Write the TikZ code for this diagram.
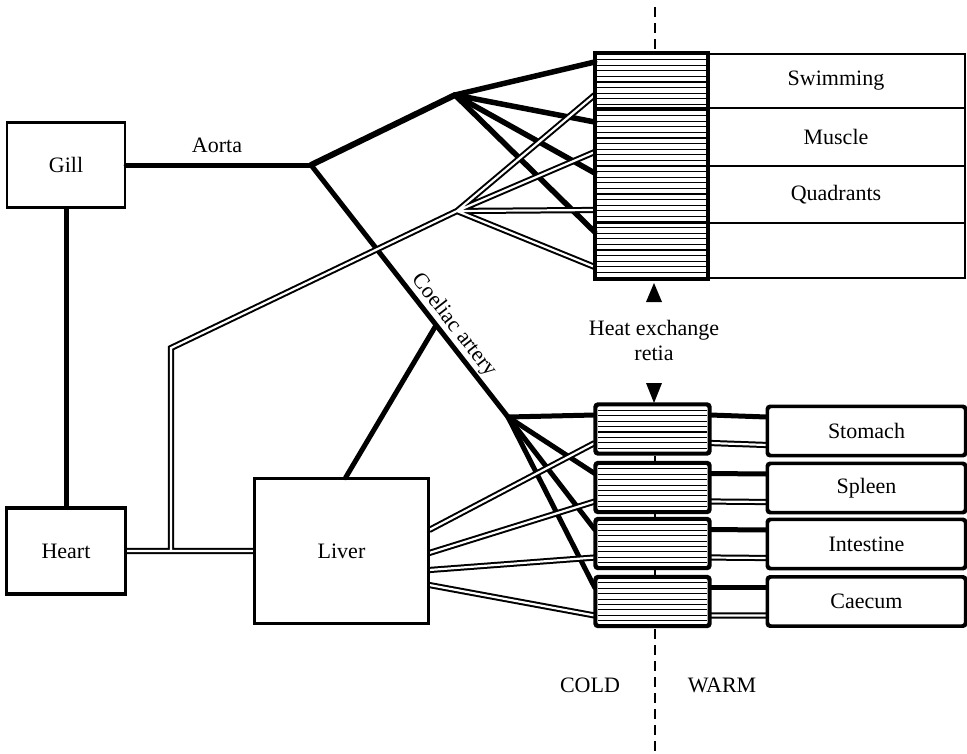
\documentclass[tikz,border=0pt]{standalone}
\usepackage{fontspec}
\setmainfont{Liberation Serif}
\newcommand\lblfont{\fontsize{22}{25}\selectfont}
\begin{document}
\begin{tikzpicture}[x=1pt,y=-1pt,
  box/.style={draw, line width=2.4pt, inner sep=0pt, font=\lblfont},
  organ/.style={box, rounded corners=3pt, minimum width=197pt, minimum height=48pt},
  retbox/.style={draw, line width=2.6pt, rounded corners=3pt, inner sep=0pt, minimum width=113pt, minimum height=48pt},
  artery/.style={line width=5pt, line cap=round, line join=round},
  veinout/.style={line width=6.2pt, line join=miter},
  veinin/.style={white, line width=2.2pt, line join=miter},
  hatch/.style={line width=1.1pt},
  divline/.style={line width=2.4pt},
  midline/.style={line width=2pt, dash pattern=on 10pt off 6pt},
  lbl/.style={font=\lblfont, inner sep=1pt}]
\useasboundingbox (0,0) rectangle (967,753);

% main boxes
\node[box, minimum width=118pt, minimum height=85pt] (Gill) at (66,165) {Gill};
\node[box, minimum width=118pt, minimum height=85pt] (Heart) at (66,551) {Heart};
\node[box, minimum width=173pt, minimum height=144pt] (Liver) at (341.5,551) {Liver};

% key points
\coordinate (aj) at (311,165);
\coordinate (ub) at (455,95);
\coordinate (lb) at (508,417);
\coordinate (lc) at (435,327);
\coordinate (vb) at (457,211);
\coordinate (vk) at (171,348);
\coordinate (vt) at (171,551);

% upper retia and muscle
\foreach \k in {1,...,39} \draw[hatch] (596,{54+5.6*\k}) -- (707,{54+5.6*\k});
\node[draw, line width=2.6pt, inner sep=0pt, minimum width=111pt, minimum height=224pt] (retU) at (651.5,166) {};
\node[draw, line width=2.4pt, inner sep=0pt, minimum width=258pt, minimum height=224pt] (mus) at (836,166) {};
\draw[divline] (596,108) -- (965,108) (596,166) -- (965,166) (596,223) -- (965,223);
\draw[line width=2.6pt] (707,54) -- (707,278);
\node[lbl] (swim) at (836,81) {Swimming};
\node[lbl] (musc) at (836,137) {Muscle};
\node[lbl] (quad) at (836,195) {Quadrants};

% lower retia and organs
\foreach \n/\y in {1/429,2/487.5,3/543.5,4/601.5}{
  \foreach \k in {1,...,8} \draw[hatch] (598,{\y-24+5.4*\k}) -- (707,{\y-24+5.4*\k});
  \node[retbox] (r\n) at (652.5,\y) {};
}
\node[organ] (o1) at (866.5,431) {Stomach};
\node[organ] (o2) at (866.5,488) {Spleen};
\node[organ] (o3) at (866.5,544) {Intestine};
\node[organ] (o4) at (866.5,601.5) {Caecum};

% arteries
\draw[artery] (Gill.south) -- (Heart.north);
\draw[artery] (Gill.east) -- (aj);
\draw[line width=6pt, line cap=round, line join=round] (aj) -- (ub);
\draw[artery] (aj) -- (lb);
\draw[artery] ([xshift=4pt]Liver.north) -- (lc);
\foreach \s in {104,44,-7,-66} \draw[line width=5.5pt, line cap=round] (ub) -- ([yshift=\s pt]retU.west);
\foreach \n in {1,2,3,4} {
  \draw[artery] (lb) -- ([yshift=14pt]r\n.west);
  \draw[line width=5pt] ([yshift=14pt]r\n.east) -- ([yshift=14pt]o\n.west);
}

% veins (two passes for open junctions)
\def\veinpaths{
  (Heart.east) -- (Liver.west)
  (vt) -- (vk) -- (vb)
  (vb) -- ([yshift=71pt]retU.west)
  (vb) -- ([yshift=14pt]retU.west)
  (vb) -- ([yshift=-44pt]retU.west)
  (vb) -- ([yshift=-101pt]retU.west)
  ([yshift=21pt]Liver.east) -- ([yshift=-14pt]r1.west)
  ([yshift=-2pt]Liver.east) -- ([yshift=-14pt]r2.west)
  ([yshift=-19pt]Liver.east) -- ([yshift=-14pt]r3.west)
  ([yshift=-34pt]Liver.east) -- ([yshift=-14pt]r4.west)
  ([yshift=-14pt]r1.east) -- ([yshift=-14pt]o1.west)
  ([yshift=-14pt]r2.east) -- ([yshift=-14pt]o2.west)
  ([yshift=-14pt]r3.east) -- ([yshift=-14pt]o3.west)
  ([yshift=-14pt]r4.east) -- ([yshift=-14pt]o4.west)
}
\draw[veinout] \veinpaths;
\draw[veinin] \veinpaths;
% redraw box borders over vein ends
\foreach \n in {1,2,3,4} {\draw[line width=2.6pt, rounded corners=3pt] (r\n.south west) rectangle (r\n.north east);
  \draw[line width=2.4pt, rounded corners=3pt] (o\n.south west) rectangle (o\n.north east);}
\draw[line width=2.6pt] (retU.south west) rectangle (retU.north east);
\draw[line width=2.4pt] (Liver.south west) rectangle (Liver.north east);
\draw[line width=2.4pt] (Heart.south west) rectangle (Heart.north east);

% labels
\node[lbl] (aorta) at (217,145) {Aorta};
\path (aj) -- (lb) node[pos=0.67, sloped, above=2.5pt, lbl] (coel) {Coeliac artery};
\node[lbl] (hx1) at (654,330) {Heat exchange};
\node[lbl] (hx2) at (654,353) {retia};
\node[lbl] (cold) at (590,685) {COLD};
\node[lbl] (warm) at (722,685) {WARM};

% arrowheads
\fill (646,302) -- (662,302) -- (654,283) -- cycle;
\fill (646,383) -- (662,383) -- (654,403) -- cycle;

% cold/warm boundary
\draw[midline] (655,7) -- (655,50);
\draw[line width=2pt] (655,456) -- (655,461) (655,513) -- (655,518) (655,570) -- (655,575);
\draw[midline] (655,629) -- (655,753);
\end{tikzpicture}
\end{document}
